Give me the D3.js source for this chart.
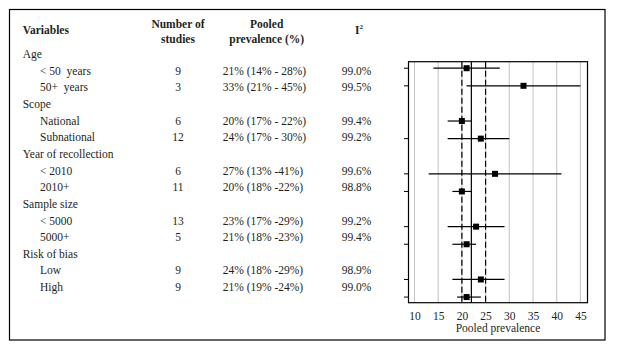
<!DOCTYPE html>
<html lang="en">
<head>
  <meta charset="UTF-8">
  <script src="https://d3js.org/d3.v7.min.js"></script>
  <title>Pooled prevalence forest plot</title>
  <style>
    body { margin: 0; background: #fff; }
    svg text { font-family: "Liberation Serif", "DejaVu Serif", serif; fill: #231f20; }
  </style>
</head>
<body>
  <svg width="617" height="349"></svg>
  <script>
    // table / plot data
    const groups = ["Age", "Scope", "Year of recollection", "Sample size", "Risk of bias"];
    const subgroups = ["< 50  years", "50+  years", "National", "Subnational", "< 2010", "2010+", "< 5000", "5000+", "Low", "High"];
    const groupOf = [0, 0, 1, 1, 2, 2, 3, 3, 4, 4];
    const nStudies = [9, 3, 6, 12, 6, 11, 13, 5, 9, 9];
    const estimate = [21, 33, 20, 24, 27, 20, 23, 21, 24, 21];
    const lower = [14, 21, 17, 17, 13, 18, 17, 18, 18, 19];
    const upper = [28, 45, 22, 30, 41, 22, 29, 23, 29, 24];
    const ciText = ["21% (14% - 28%)", "33% (21% - 45%)", "20% (17% - 22%)", "24% (17% - 30%)", "27% (13% -41%)",
                    "20% (18% -22%)", "23% (17% -29%)", "21% (18% -23%)", "24% (18% -29%)", "21% (19% -24%)"];
    const i2 = ["99.0%", "99.5%", "99.4%", "99.2%", "99.6%", "98.8%", "99.2%", "99.4%", "98.9%", "99.0%"];
    const overall = [20, 22, 25]; // lower, pooled, upper
    const xTicks = [10, 15, 20, 25, 30, 35, 40, 45];

    // build rows: group header followed by its subgroups
    const rows = [];
    groups.forEach((g, gi) => {
      rows.push({label: g, header: true});
      subgroups.forEach((s, i) => {
        if (groupOf[i] === gi) rows.push({label: s, header: false, i: i});
      });
    });
    rows.forEach((r, k) => { r.k = k; });

    const svg = d3.select("svg");

    // outer frame
    svg.append("rect")
      .attr("x", 9.5).attr("y", 9.5)
      .attr("width", 595.5).attr("height", 330.5)
      .attr("fill", "none").attr("stroke", "#000").attr("stroke-width", 1.2);

    // ---- table ----
    const fs = 11.5;
    const tY = (k) => 54 + k * 16.65;
    const head = svg.append("g").attr("font-weight", "bold").attr("font-size", fs);
    head.append("text").attr("x", 22.7).attr("y", 30).attr("dy", "0.35em").text("Variables");
    head.append("text").attr("x", 178).attr("y", 24).attr("dy", "0.35em").attr("text-anchor", "middle").text("Number of");
    head.append("text").attr("x", 178).attr("y", 39).attr("dy", "0.35em").attr("text-anchor", "middle").text("studies");
    head.append("text").attr("x", 266.7).attr("y", 24).attr("dy", "0.35em").attr("text-anchor", "middle").text("Pooled");
    head.append("text").attr("x", 266.7).attr("y", 39).attr("dy", "0.35em").attr("text-anchor", "middle").text("prevalence (%)");
    const iLab = head.append("text").attr("x", 355).attr("y", 30).attr("dy", "0.35em");
    iLab.append("tspan").text("I");
    iLab.append("tspan").attr("font-size", 7).attr("dy", "-0.7em").text("2");

    const body = svg.append("g").attr("font-size", fs);
    body.selectAll("text.lab")
      .data(rows)
      .enter()
      .append("text")
      .attr("class", "lab")
      .attr("x", (d) => d.header ? 22.7 : 40)
      .attr("y", (d) => tY(d.k))
      .attr("dy", "0.35em")
      .attr("xml:space", "preserve")
      .style("white-space", "pre")
      .text((d) => d.label);

    const sub = rows.filter((d) => !d.header);
    body.selectAll("text.n")
      .data(sub).enter().append("text").attr("class", "n")
      .attr("x", 178).attr("y", (d) => tY(d.k)).attr("dy", "0.35em")
      .attr("text-anchor", "middle")
      .text((d) => nStudies[d.i]);
    body.selectAll("text.ci")
      .data(sub).enter().append("text").attr("class", "ci")
      .attr("x", 222.7).attr("y", (d) => tY(d.k)).attr("dy", "0.35em")
      .text((d) => ciText[d.i]);
    body.selectAll("text.i2")
      .data(sub).enter().append("text").attr("class", "i2")
      .attr("x", 341.7).attr("y", (d) => tY(d.k)).attr("dy", "0.35em")
      .text((d) => i2[d.i]);

    // ---- forest plot ----
    const xScale = d3.scaleLinear().domain([8.74, 46.5]).range([408.5, 587.5]);
    const yScale = d3.scaleLinear().domain([-0.37, 13.32]).range([61.7, 302.7]);
    const py = (d) => yScale(d.k - 1);
    const [x0, x1] = xScale.range();
    const [y0, y1] = yScale.range();

    const plot = svg.append("g");
    plot.selectAll("line.grid")
      .data(xTicks).enter().append("line").attr("class", "grid")
      .attr("x1", (d) => xScale(d)).attr("x2", (d) => xScale(d))
      .attr("y1", y0).attr("y2", y1)
      .attr("stroke", "#c8c8c8").attr("stroke-width", 1.1);

    // pooled estimate and its interval
    plot.append("line")
      .attr("x1", xScale(overall[1])).attr("x2", xScale(overall[1]))
      .attr("y1", y0).attr("y2", y1)
      .attr("stroke", "#000").attr("stroke-width", 1.2);
    plot.selectAll("line.dash")
      .data([overall[0], overall[2]]).enter().append("line").attr("class", "dash")
      .attr("x1", (d) => xScale(d)).attr("x2", (d) => xScale(d))
      .attr("y1", y0).attr("y2", y1)
      .attr("stroke", "#000").attr("stroke-width", 1.2)
      .attr("stroke-dasharray", "6,3");

    // left ticks (none drawn on the National row in the original)
    plot.selectAll("line.yt")
      .data(sub.filter((d) => d.label !== "National")).enter().append("line").attr("class", "yt")
      .attr("x1", x0 - 4.5).attr("x2", x0)
      .attr("y1", py).attr("y2", py)
      .attr("stroke", "#000").attr("stroke-width", 1);

    plot.selectAll("line.ci")
      .data(sub).enter().append("line").attr("class", "ci")
      .attr("x1", (d) => xScale(lower[d.i])).attr("x2", (d) => xScale(upper[d.i]))
      .attr("y1", py).attr("y2", py)
      .attr("stroke", "#000").attr("stroke-width", 1.2);

    plot.selectAll("rect.pt")
      .data(sub).enter().append("rect").attr("class", "pt")
      .attr("x", (d) => xScale(estimate[d.i]) - 3)
      .attr("y", (d) => py(d) - 3)
      .attr("width", 6).attr("height", 6)
      .attr("fill", "#000");

    plot.append("rect")
      .attr("x", x0).attr("y", y0)
      .attr("width", x1 - x0).attr("height", y1 - y0)
      .attr("fill", "none").attr("stroke", "#000").attr("stroke-width", 1.2);

    // x axis - labels only
    const xAxis = d3.axisBottom(xScale).tickValues(xTicks).tickSize(0).tickPadding(9);
    const ax = svg.append("g")
      .attr("transform", `translate(0,${y1})`)
      .call(xAxis);
    ax.select(".domain").remove();
    ax.selectAll("text").attr("font-family", null).attr("font-size", fs).attr("fill", null);

    svg.append("text")
      .attr("x", (x0 + x1) / 2).attr("y", 327.7).attr("dy", "0.35em")
      .attr("text-anchor", "middle").attr("font-size", fs)
      .text("Pooled prevalence");
  </script>
</body>
</html>
